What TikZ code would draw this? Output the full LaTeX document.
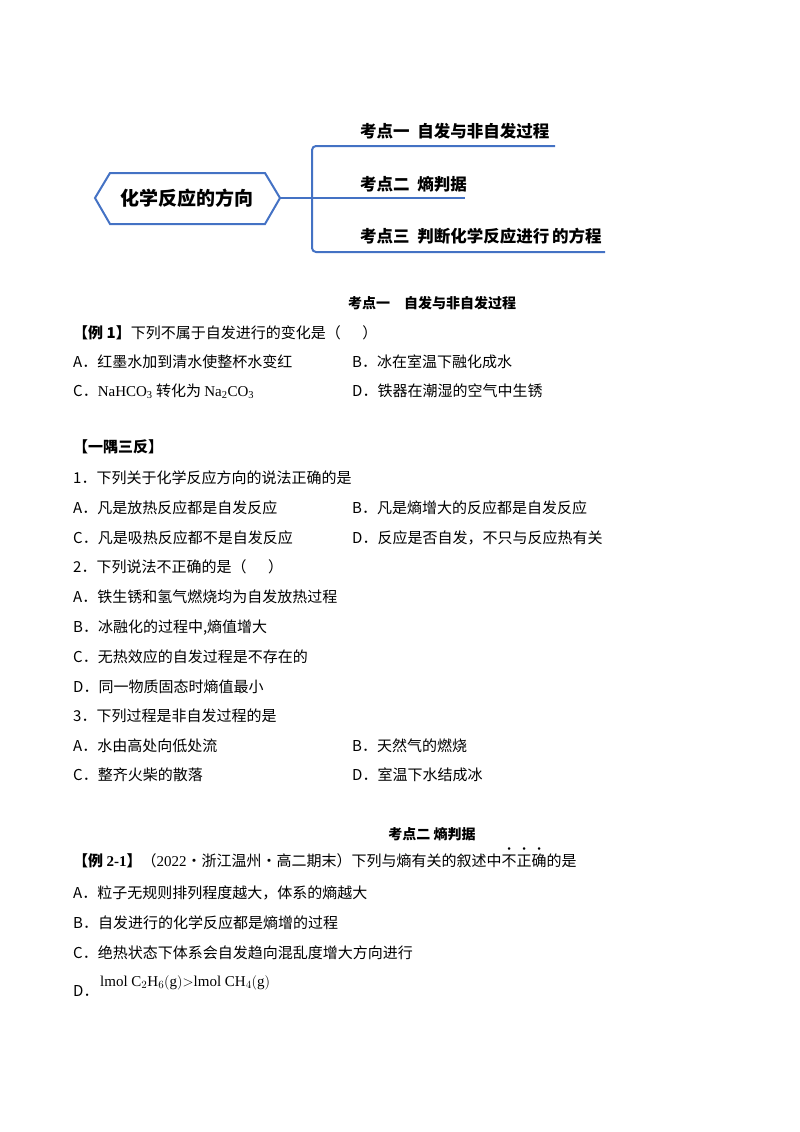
\documentclass[tikz,border=0pt]{standalone}
\usepackage{fontspec}
\setmainfont{Liberation Serif}
\newfontfamily\cjk{Noto Sans CJK SC}
\newcommand{\emdot}[1]{\ooalign{#1\cr\hidewidth\raisebox{0.9em}{\rmfamily\scalebox{0.7}{\textbullet}}\hidewidth\cr}}
\begin{document}
\begin{tikzpicture}[x=1pt,y=-1pt,
  txt/.style={anchor=base west,inner sep=0pt,font=\fontsize{15}{17}\selectfont\cjk},
  hd/.style={anchor=base,inner sep=0pt,font=\fontsize{14}{16}\selectfont\cjk\bfseries},
  br/.style={anchor=base west,inner sep=0pt,font=\fontsize{16.5}{18}\selectfont\cjk\bfseries},
  blu/.style={draw={rgb,255:red,68;green,114;blue,196}, line width=2pt}]
\useasboundingbox (0,0) rectangle (800,1132);
% mind map
\draw[blu] (110,173) -- (265,173) -- (280,198) -- (265,224) -- (110,224) -- (95,198) -- cycle;
\node[inner sep=0pt,font=\fontsize{19}{21}\selectfont\cjk\bfseries] (root) at (187,198) {化学反应的方向};
\coordinate (j) at (312,198);
\draw[blu] (280,198) -- (j);
\draw[blu,rounded corners=4pt] (555,146) -- (312,146) -- (312,252) -- (605,252);
\draw[blu] (j) -- (465,198);
\node[br] (b1) at (360,137) {考点一\ \ 自发与非自发过程};
\node[br] (b2) at (360,190) {考点二\ \ 熵判据};
\node[br] (b3) at (360,242) {考点三\ \ 判断化学反应进行\,的方程};
% section 1
\node[hd] (h1) at (432,308) {考点一\quad 自发与非自发过程};
\node[txt] (e1) at (73,338) {\textbf{【例 1】}下列不属于自发进行的变化是（\quad\ \ ）};
\node[txt] at (73,367) {A．红墨水加到清水使整杯水变红};
\node[txt] at (352,367) {B．冰在室温下融化成水};
\node[txt] at (73,396) {C．{\rmfamily NaHCO\textsubscript{3}} 转化为 {\rmfamily Na\textsubscript{2}CO\textsubscript{3}}};
\node[txt] at (352,396) {D．铁器在潮湿的空气中生锈};
\node[txt] at (73,452) {\textbf{【一隅三反】}};
\node[txt] at (73,483) {1．下列关于化学反应方向的说法正确的是};
\node[txt] at (73,513) {A．凡是放热反应都是自发反应};
\node[txt] at (352,513) {B．凡是熵增大的反应都是自发反应};
\node[txt] at (73,543) {C．凡是吸热反应都不是自发反应};
\node[txt] at (352,543) {D．反应是否自发，不只与反应热有关};
\node[txt] at (73,572) {2．下列说法不正确的是（\quad\ \ ）};
\node[txt] at (73,602) {A．铁生锈和氢气燃烧均为自发放热过程};
\node[txt] at (73,632) {B．冰融化的过程中,熵值增大};
\node[txt] at (73,662) {C．无热效应的自发过程是不存在的};
\node[txt] at (73,692) {D．同一物质固态时熵值最小};
\node[txt] at (73,721) {3．下列过程是非自发过程的是};
\node[txt] at (73,751) {A．水由高处向低处流};
\node[txt] at (352,751) {B．天然气的燃烧};
\node[txt] at (73,780) {C．整齐火柴的散落};
\node[txt] at (352,780) {D．室温下水结成冰};
% section 2
\node[hd] (h2) at (432,839) {考点二\ 熵判据};
\node[txt] (e2) at (73,866) {\textbf{【例 {\rmfamily 2-1}】}（{\rmfamily 2022}·浙江温州·高二期末）下列与熵有关的叙述中\emdot{不}\emdot{正}\emdot{确}的是};
\node[txt] at (73,898) {A．粒子无规则排列程度越大，体系的熵越大};
\node[txt] at (73,928) {B．自发进行的化学反应都是熵增的过程};
\node[txt] at (73,958) {C．绝热状态下体系会自发趋向混乱度增大方向进行};
\node[txt] at (73,996) {D．};
\node[anchor=base west,inner sep=0pt,font=\fontsize{15}{17}\selectfont] at (100,986) {lmol C$_2$H$_6$$\left(\mathrm{g}\right)$$>$lmol CH$_4$$\left(\mathrm{g}\right)$};
\end{tikzpicture}
\end{document}
